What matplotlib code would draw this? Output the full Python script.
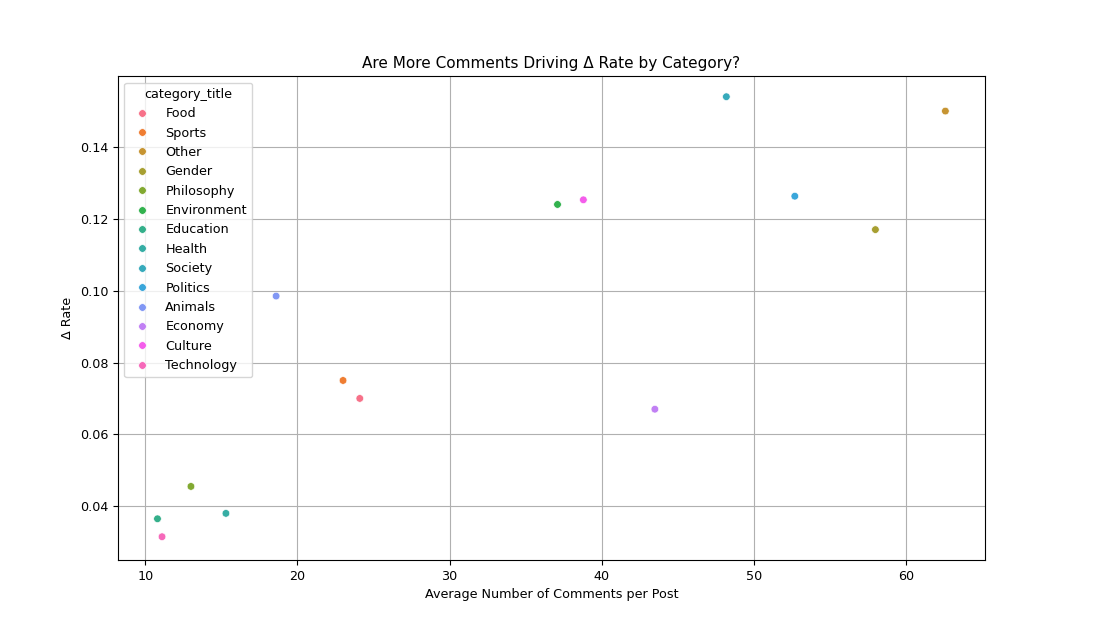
import matplotlib
matplotlib.use("Agg")
import matplotlib.pyplot as plt
import seaborn as sns
import pandas as pd

plt.rcParams["font.size"] = 9.2

categories = ["Food","Sports","Other","Gender","Philosophy","Environment","Education",
              "Health","Society","Politics","Animals","Economy","Culture","Technology"]
avg_comments = [24.1,23.0,62.6,58.0,13.0,37.1,10.8,15.3,48.2,52.7,18.6,43.5,38.8,11.1]
delta_rate = [0.070,0.075,0.150,0.117,0.0455,0.124,0.0365,0.038,0.154,0.1263,0.0985,0.067,0.1253,0.0315]

df = pd.DataFrame({"category_title": categories, "avg": avg_comments, "delta": delta_rate})

fig = plt.figure(figsize=(11.14, 6.3), dpi=100)
ax = fig.add_axes([0.106, 0.111, 0.778, 0.768])
sns.scatterplot(data=df, x="avg", y="delta", hue="category_title", ax=ax, s=30)
ax.set_ylim(0.025, 0.1597)
ax.set_title("Are More Comments Driving Δ Rate by Category?", fontsize=11)
ax.set_xlabel("Average Number of Comments per Post")
ax.set_ylabel("Δ Rate")
ax.grid(True)
ax.legend(title="category_title", loc="upper left", fontsize=9.2, title_fontsize=9.2)
fig.savefig("out.png", dpi=100)
